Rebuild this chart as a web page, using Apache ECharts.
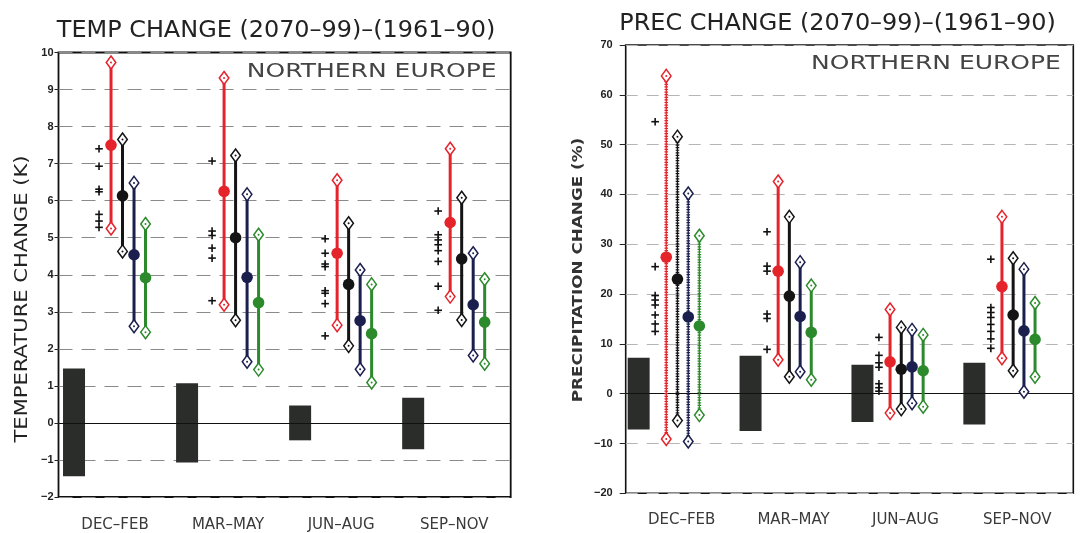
<!DOCTYPE html>
<html>
<head>
<meta charset="utf-8">
<script src="https://cdn.jsdelivr.net/npm/echarts@6/dist/echarts.min.js"></script>
<style>
html,body{margin:0;padding:0;background:#fff;}
#chart{width:1086px;height:533px;}
</style>
</head>
<body>
<div id="chart"></div>
<script>
// ---------- DATA ----------
const seasons = ['DEC–FEB', 'MAR–MAY', 'JUN–AUG', 'SEP–NOV'];

// temperature change (K): [low, central, high] per season
const tempRed   = [[5.25, 7.50, 9.73], [3.19, 6.25, 9.31], [2.64, 4.58, 6.55], [3.41, 5.41, 7.40]];
const tempBlack = [[4.63, 6.13, 7.65], [2.77, 5.00, 7.22], [2.08, 3.74, 5.39], [2.78, 4.43, 6.08]];
const tempNavy  = [[2.61, 4.54, 6.48], [1.65, 3.93, 6.17], [1.45, 2.76, 4.13], [1.82, 3.19, 4.58]];
const tempGreen = [[2.45, 3.92, 5.37], [1.44, 3.25, 5.08], [1.09, 2.41, 3.74], [1.60, 2.72, 3.88]];
const tempCross = [
  [7.40, 6.93, 6.31, 6.24, 5.63, 5.45, 5.28],
  [7.07, 5.18, 5.06, 4.72, 4.45, 3.30],
  [4.97, 4.58, 4.29, 4.22, 3.57, 3.50, 3.22, 2.35],
  [5.72, 5.08, 4.94, 4.81, 4.65, 4.36, 3.69, 3.04]
];
const tempVar = [[-1.44, 1.47], [-1.07, 1.07], [-0.47, 0.47], [-0.71, 0.68]];

// precipitation change (%): [low, central, high] per season
const precRed   = [[-9.1, 27.4, 63.8], [6.8, 24.6, 42.6], [-3.9, 6.4, 16.9], [7.1, 21.5, 35.5]];
const precBlack = [[-5.4, 23.0, 51.6], [3.4, 19.6, 35.5], [-3.1, 4.9, 13.3], [4.6, 15.8, 27.2]];
const precNavy  = [[-9.6, 15.4, 40.2], [4.4, 15.5, 26.4], [-1.9, 5.4, 12.8], [0.4, 12.6, 25.0]];
const precGreen = [[-4.3, 13.6, 31.7], [2.8, 12.3, 21.7], [-2.6, 4.6, 11.8], [3.4, 10.9, 18.2]];
const precCross = [
  [54.6, 25.5, 19.7, 18.8, 17.8, 15.8, 14.0, 12.5],
  [32.5, 25.6, 24.6, 16.0, 15.1, 8.9],
  [11.3, 7.7, 6.2, 5.3, 2.0, 1.2, 0.5],
  [27.0, 17.3, 16.3, 15.3, 13.9, 12.5, 11.0, 9.1]
];
const precVar = [[-7.2, 7.2], [-7.5, 7.6], [-5.7, 5.8], [-6.2, 6.2]];

const tempTicks = { min: -2, max: 10, interval: 1 };
const precTicks = { min: -20, max: 70, interval: 10 };

// ---------- STYLE ----------
const C = { red: '#e5232b', black: '#141414', navy: '#1b1f4e', green: '#2c8a2c', box: '#2a2d2a' };
const FONT = 'DejaVu Sans';
// pixel offsets inside each category band (layout only)
const OFF = [
  { box: -41, cross: -16, red: -4, black: 7.5, navy: 19, green: 30.5 },
  { box: -43, cross: -26.5, red: -15.4, black: -4.2, navy: 6.6, green: 17.7 }
];
const beadedSeason = [null, 0]; // precip DEC-FEB lines drawn beaded

function modelSeries(gi, arr, color, off) {
  return {
    type: 'custom', xAxisIndex: gi, yAxisIndex: gi, z: 5,
    data: arr.map((d, i) => [i, d[0], d[1], d[2]]),
    encode: { x: 0, y: [1, 2, 3] },
    renderItem: function (params, api) {
      const ci = api.value(0);
      const lo = api.coord([ci, api.value(1)]);
      const mid = api.coord([ci, api.value(2)]);
      const hi = api.coord([ci, api.value(3)]);
      const x = lo[0] + off;
      const ch = [];
      const beaded = beadedSeason[gi] === ci;
      if (beaded) {
        ch.push({ type: 'line', shape: { x1: x, y1: hi[1], x2: x, y2: lo[1] }, style: { stroke: color, lineWidth: 1.3 } });
        ch.push({ type: 'line', shape: { x1: x, y1: hi[1], x2: x, y2: lo[1] }, style: { stroke: color, lineWidth: 3.6, lineDash: [1.2, 1.4] } });
      } else {
        ch.push({ type: 'line', shape: { x1: x, y1: hi[1], x2: x, y2: lo[1] }, style: { stroke: color, lineWidth: 3 } });
      }
      [hi[1], lo[1]].forEach(function (y) {
        ch.push({ type: 'polygon', shape: { points: [[x, y - 6.5], [x + 4.8, y], [x, y + 6.5], [x - 4.8, y]] },
          style: { fill: '#fff', stroke: color, lineWidth: 1.5 } });
        ch.push({ type: 'circle', shape: { cx: x, cy: y, r: 1 }, style: { fill: color } });
      });
      ch.push({ type: 'circle', shape: { cx: x, cy: mid[1], r: 5.8 }, style: { fill: color } });
      return { type: 'group', children: ch };
    }
  };
}

function crossSeries(gi, arr, off) {
  const data = [];
  arr.forEach((vals, i) => vals.forEach(v => data.push([i, v])));
  return {
    type: 'custom', xAxisIndex: gi, yAxisIndex: gi, z: 4,
    data: data, encode: { x: 0, y: 1 },
    renderItem: function (params, api) {
      const p = api.coord([api.value(0), api.value(1)]);
      const x = p[0] + off, y = p[1], h = 3.8;
      return { type: 'group', children: [
        { type: 'line', shape: { x1: x - h, y1: y, x2: x + h, y2: y }, style: { stroke: '#111', lineWidth: 1.6 } },
        { type: 'line', shape: { x1: x, y1: y - h, x2: x, y2: y + h }, style: { stroke: '#111', lineWidth: 1.6 } }
      ] };
    }
  };
}

function boxSeries(gi, arr, off) {
  return {
    type: 'custom', xAxisIndex: gi, yAxisIndex: gi, z: 3,
    data: arr.map((d, i) => [i, d[0], d[1]]),
    encode: { x: 0, y: [1, 2] },
    renderItem: function (params, api) {
      const lo = api.coord([api.value(0), api.value(1)]);
      const hi = api.coord([api.value(0), api.value(2)]);
      const x = lo[0] + off;
      return { type: 'rect', shape: { x: x - 11, y: hi[1], width: 22, height: lo[1] - hi[1] }, style: { fill: C.box } };
    }
  };
}

function zeroLine(gi) {
  return {
    type: 'line', xAxisIndex: gi, yAxisIndex: gi, data: [0, 0, 0, 0], symbol: 'none',
    lineStyle: { opacity: 0 }, silent: true, z: 2,
    markLine: { silent: true, symbol: 'none', label: { show: false },
      lineStyle: { color: '#111', type: 'solid', width: 1 }, data: [{ yAxis: 0 }] }
  };
}

function xAx(gi, margin) {
  return { type: 'category', gridIndex: gi, data: seasons,
    axisLine: { show: false }, axisTick: { show: false }, splitLine: { show: false },
    axisLabel: { margin: margin, fontSize: 15, color: '#3a3a3a', fontFamily: FONT } };
}
function yAx(gi, t, tickLen, margin, dash, dcol) {
  return { type: 'value', gridIndex: gi, min: t.min, max: t.max, interval: t.interval,
    axisLine: { show: false },
    axisTick: { show: true, length: tickLen, lineStyle: { color: '#222', width: 1 } },
    axisLabel: { margin: margin, fontSize: 11, fontWeight: 'bold', color: '#222', fontFamily: 'Liberation Sans',
      formatter: v => String(v).replace('-', '−') },
    splitLine: { show: true, lineStyle: { type: dash, color: dcol, width: 1 } } };
}

const option = {
  backgroundColor: '#fff',
  animation: false,
  grid: [
    { left: 58.5, top: 52.5, width: 452.2, height: 447.5, show: true, borderColor: '#111', borderWidth: 1.8, backgroundColor: 'transparent' },
    { left: 625.7, top: 45, width: 447.6, height: 448.3, show: true, borderColor: '#111', borderWidth: 1.6, backgroundColor: 'transparent' }
  ],
  xAxis: [xAx(0, 21), xAx(1, 19)],
  yAxis: [yAx(0, tempTicks, 4, 5, [14, 9], '#8a8a8a'), yAx(1, precTicks, 6, 13, [12, 9], '#b5b5b5')],
  graphic: [
    { type: 'text', x: 276, y: 31, scaleX: 1.04, style: { text: 'TEMP CHANGE (2070–99)–(1961–90)', font: '23px "DejaVu Sans"', fill: '#222', align: 'center', verticalAlign: 'middle' } },
    { type: 'text', x: 837.5, y: 24, scaleX: 1.04, style: { text: 'PREC CHANGE (2070–99)–(1961–90)', font: '23px "DejaVu Sans"', fill: '#222', align: 'center', verticalAlign: 'middle' } },
    { type: 'text', x: 371.7, y: 71.7, scaleX: 1.25, style: { text: 'NORTHERN EUROPE', font: '20px "DejaVu Sans"', fill: '#444', align: 'center', verticalAlign: 'middle' } },
    { type: 'text', x: 936, y: 64, scaleX: 1.25, style: { text: 'NORTHERN EUROPE', font: '20px "DejaVu Sans"', fill: '#444', align: 'center', verticalAlign: 'middle' } },
    { type: 'text', x: 22, y: 299, rotation: Math.PI / 2, scaleX: 1.17, style: { text: 'TEMPERATURE CHANGE (K)', font: '18px "DejaVu Sans"', fill: '#222', align: 'center', verticalAlign: 'middle' } },
    { type: 'text', x: 578, y: 270, rotation: Math.PI / 2, scaleX: 1.2, style: { text: 'PRECIPITATION CHANGE (%)', font: 'bold 14px "DejaVu Sans"', fill: '#333', align: 'center', verticalAlign: 'middle' } }
  ],
  series: [
    zeroLine(0), zeroLine(1),
    boxSeries(0, tempVar, OFF[0].box), boxSeries(1, precVar, OFF[1].box),
    crossSeries(0, tempCross, OFF[0].cross), crossSeries(1, precCross, OFF[1].cross),
    modelSeries(0, tempRed, C.red, OFF[0].red),
    modelSeries(0, tempBlack, C.black, OFF[0].black),
    modelSeries(0, tempNavy, C.navy, OFF[0].navy),
    modelSeries(0, tempGreen, C.green, OFF[0].green),
    modelSeries(1, precRed, C.red, OFF[1].red),
    modelSeries(1, precBlack, C.black, OFF[1].black),
    modelSeries(1, precNavy, C.navy, OFF[1].navy),
    modelSeries(1, precGreen, C.green, OFF[1].green)
  ]
};

const chart = echarts.init(document.getElementById('chart'), null, { renderer: 'canvas' });
chart.setOption(option);
</script>
</body>
</html>
